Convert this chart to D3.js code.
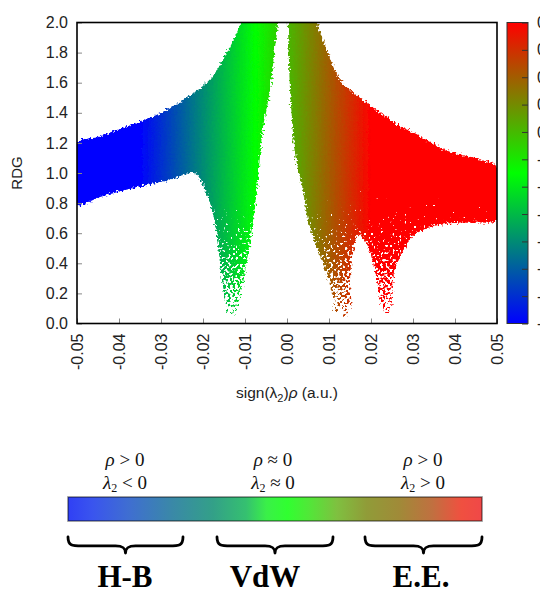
<!DOCTYPE html>
<html><head><meta charset="utf-8">
<script src="https://cdn.jsdelivr.net/npm/d3@7"></script>
<style>body{margin:0;background:#fff}svg{display:block}</style>
</head><body>
<script>
// ---------------- data ----------------
const xTicks = [-0.05,-0.04,-0.03,-0.02,-0.01,0,0.01,0.02,0.03,0.04,0.05];
const yTicks = [0,0.2,0.4,0.6,0.8,1.0,1.2,1.4,1.6,1.8,2.0];
const cbTicks = [0.02,0.015,0.01,0.005,0,-0.005,-0.01,-0.015,-0.02,-0.025,-0.03,-0.035];
const cbRange = [-0.035, 0.02];
const paletteColors = ["#0000ff","#00ff00","#ff0000"];

// outline of the left (attractive / vdW) point cloud: sign(l2)rho, RDG
const leftCloudX =   [-0.05,-0.05,-0.045,-0.04,-0.035,-0.03,-0.025,-0.02,-0.0175,-0.0155,-0.0135,-0.0115,-0.0090,
                      -0.0015,-0.0021,-0.0030,-0.0040,-0.0050,-0.0057,-0.0064,-0.0071,-0.0081,-0.0093,-0.0107,-0.0117,-0.0125,-0.0135,
                      -0.0145,-0.0155,-0.0164,-0.0176,-0.0190,-0.0205,-0.0220,-0.0286,-0.0367,-0.0445];
const leftCloudRDG = [0.79,1.20,1.24,1.29,1.34,1.40,1.48,1.58,1.65,1.74,1.84,1.96,2.12,
                      2.12,2.0,1.80,1.56,1.40,1.30,1.12,0.90,0.68,0.46,0.24,0.12,0.06,0.04,
                      0.12,0.29,0.51,0.73,0.85,0.95,1.00,0.95,0.90,0.84];
// outline of the right (repulsive) point cloud
const rightCloudX =   [0.0001,0.0002,0.0004,0.0007,0.0012,0.0019,0.0036,0.0050,0.0065,0.0085,0.0100,0.0110,0.0114,0.0126,
                       0.0150,0.0150,0.0157,0.0169,0.0186,0.0198,0.0214,0.0226,0.0238,0.0250,0.0252,0.0269,0.0300,
                       0.0340,0.0405,0.0452,0.0500,0.0500,0.0460,0.0380,0.0300,0.0269,0.0238,0.0174,0.0126,0.0095,0.0071,0.0058];
const rightCloudRDG = [2.12,2.0,1.80,1.57,1.35,1.13,0.91,0.69,0.55,0.40,0.28,0.15,0.07,0.04,
                       0.07,0.29,0.47,0.59,0.55,0.47,0.29,0.10,0.07,0.11,0.29,0.44,0.58,
                       0.64,0.67,0.67,0.69,1.04,1.09,1.15,1.27,1.31,1.37,1.50,1.62,1.82,2.0,2.12];

const legendCategories = ["H-B","VdW","E.E."];
const legendRho = [">","≈",">"];
const legendLambda = ["<","≈",">"];
const legendValues = ["0","0","0"];
const legendStopOffsets = [0,0.06,0.15,0.25,0.35,0.43,0.48,0.53,0.58,0.65,0.72,0.80,0.88,0.95,1];
const legendStopColors = ["#3040f5","#3a55ee","#3f6fd0","#3a88a8","#33a088","#35c070","#3af048","#30ff30",
                          "#50e838","#7fc040","#909c38","#a08a38","#c07040","#f05040","#f04848"];

// ---------------- layout ----------------
const W = 540, H = 589;
const plot = {l:77, r:497, t:22.5, b:323.5};
const cb = {l:507, r:528};
const sans = "'Liberation Sans', Arial, sans-serif";
const serif = "'Liberation Serif', 'Times New Roman', serif";

const svg = d3.select("body").append("svg").attr("width", W).attr("height", H);
const defs = svg.append("defs");

const x = d3.scaleLinear().domain([-0.05, 0.05]).range([plot.l, plot.r]);
const y = d3.scaleLinear().domain([0, 2]).range([plot.b, plot.t]);
const cbScale = d3.scaleLinear().domain(cbRange).range([plot.b, plot.t]);
const paletteDomain = [cbRange[0], (cbRange[0]+cbRange[1])/2, cbRange[1]];

// gradient of the point cloud along x (colour = sign(l2)rho)
const cg = defs.append("linearGradient").attr("id","cloudGrad")
  .attr("gradientUnits","userSpaceOnUse")
  .attr("x1", x(-0.05)).attr("x2", x(0.05)).attr("y1",0).attr("y2",0);
paletteDomain.forEach((v,i) => cg.append("stop")
  .attr("offset", (x(v)-x(-0.05))/(x(0.05)-x(-0.05))).attr("stop-color", paletteColors[i]));

// colorbar gradient (vertical)
const vg = defs.append("linearGradient").attr("id","cbGrad")
  .attr("gradientUnits","userSpaceOnUse").attr("x1",0).attr("x2",0)
  .attr("y1", cbScale(cbRange[0])).attr("y2", cbScale(cbRange[1]));
paletteDomain.forEach((v,i) => vg.append("stop")
  .attr("offset", (v-cbRange[0])/(cbRange[1]-cbRange[0])).attr("stop-color", paletteColors[i]));

// rough (scattered) edges of the point cloud
const fr = defs.append("filter").attr("id","rough").attr("filterUnits","userSpaceOnUse")
  .attr("x",0).attr("y",0).attr("width",W).attr("height",H);
fr.append("feTurbulence").attr("type","fractalNoise").attr("baseFrequency",0.5).attr("numOctaves",1).attr("seed",3).attr("result","n");
fr.append("feDisplacementMap").attr("in","SourceGraphic").attr("in2","n").attr("scale",7)
  .attr("xChannelSelector","R").attr("yChannelSelector","G");

// dithered density fade for low RDG (sparser points near the spikes)
const fd = defs.append("filter").attr("id","dither").attr("filterUnits","userSpaceOnUse")
  .attr("x",0).attr("y",0).attr("width",W).attr("height",H).attr("color-interpolation-filters","sRGB");
fd.append("feTurbulence").attr("type","fractalNoise").attr("baseFrequency",0.42).attr("numOctaves",1).attr("seed",9).attr("result","n0");
fd.append("feColorMatrix").attr("in","n0").attr("type","matrix")
  .attr("values","1 0 0 0 0  1 0 0 0 0  1 0 0 0 0  0 0 0 0 1").attr("result","n");
fd.append("feComposite").attr("in","SourceGraphic").attr("in2","n").attr("operator","arithmetic")
  .attr("k1",0).attr("k2",1).attr("k3",2).attr("k4",-0.8).attr("result","s");
const ct = fd.append("feComponentTransfer").attr("in","s");
["feFuncR","feFuncG","feFuncB"].forEach(f => ct.append(f).attr("type","linear").attr("slope",9).attr("intercept",-4));
ct.append("feFuncA").attr("type","linear").attr("slope",0).attr("intercept",1);

const fadeGrad = defs.append("linearGradient").attr("id","fadeGrad").attr("gradientUnits","userSpaceOnUse")
  .attr("x1",0).attr("x2",0).attr("y1",y(0.95)).attr("y2",y(0.0));
fadeGrad.append("stop").attr("offset",0).attr("stop-color","#fff");
fadeGrad.append("stop").attr("offset",1).attr("stop-color","#111");
const mask = defs.append("mask").attr("id","denseMask").attr("maskUnits","userSpaceOnUse")
  .attr("x",0).attr("y",0).attr("width",W).attr("height",H);
mask.append("rect").attr("x",plot.l-10).attr("y",plot.t-10).attr("width",plot.r-plot.l+20).attr("height",plot.b-plot.t+20)
  .attr("fill","url(#fadeGrad)").attr("filter","url(#dither)");

defs.append("clipPath").attr("id","plotClip").append("rect")
  .attr("x",plot.l).attr("y",plot.t).attr("width",plot.r-plot.l).attr("height",plot.b-plot.t);

const line = d3.line().x(d => x(d[0])).y(d => y(d[1])).curve(d3.curveCatmullRomClosed.alpha(0.5));
const clouds = [d3.zip(leftCloudX, leftCloudRDG), d3.zip(rightCloudX, rightCloudRDG)];

const cloudG = svg.append("g").attr("clip-path","url(#plotClip)")
  .append("g").attr("mask","url(#denseMask)")
  .append("g").attr("filter","url(#rough)");
cloudG.selectAll("path").data(clouds).join("path").attr("d", line).attr("fill","url(#cloudGrad)");

// axes
const yAxis = svg.append("g").attr("transform",`translate(${plot.l},0)`)
  .call(d3.axisLeft(y).tickValues(yTicks).tickFormat(d => d.toFixed(1)).tickSizeInner(-5).tickSizeOuter(0).tickPadding(9));
const xAxis = svg.append("g").attr("transform",`translate(0,${plot.b})`)
  .call(d3.axisBottom(x).tickValues(xTicks).tickFormat(d => d.toFixed(2)).tickSizeInner(-5).tickSizeOuter(0));
[xAxis, yAxis].forEach(a => {
  a.select(".domain").remove();
  a.selectAll(".tick line").attr("stroke","#888");
  a.selectAll(".tick text").attr("fill","#222").style("font-family", sans).style("font-size","16px");
});
xAxis.selectAll(".tick text").attr("transform","rotate(-90)").attr("text-anchor","end")
  .attr("x",-10).attr("y",0).attr("dy","0.35em");

svg.append("rect").attr("x",plot.l).attr("y",plot.t).attr("width",plot.r-plot.l).attr("height",plot.b-plot.t)
  .attr("fill","none").attr("stroke","#000").attr("stroke-width",1.6);

// axis titles
svg.append("text").attr("transform",`translate(22,${(plot.t+plot.b)/2}) rotate(-90)`)
  .attr("text-anchor","middle").style("font-family",sans).style("font-size","15px").attr("fill","#222").text("RDG");
const xl = svg.append("text").attr("x",(plot.l+plot.r)/2).attr("y",398).attr("text-anchor","middle")
  .style("font-family",sans).style("font-size","15.5px").attr("fill","#222");
xl.append("tspan").text("sign(");
xl.append("tspan").text("λ");
xl.append("tspan").attr("dy",4).style("font-size","11px").text("2");
xl.append("tspan").attr("dy",-4).text(")");
xl.append("tspan").style("font-style","italic").text("ρ");
xl.append("tspan").text(" (a.u.)");

// colorbar
svg.append("rect").attr("x",cb.l).attr("y",plot.t).attr("width",cb.r-cb.l).attr("height",plot.b-plot.t)
  .attr("fill","url(#cbGrad)").attr("stroke","#333").attr("stroke-width",1);
const cbAxis = svg.append("g").attr("transform",`translate(${cb.r},0)`)
  .call(d3.axisRight(cbScale).tickValues(cbTicks).tickFormat(d => d.toFixed(3)).tickSizeInner(-6).tickSizeOuter(0).tickPadding(9));
cbAxis.select(".domain").remove();
cbAxis.selectAll(".tick line").attr("stroke","#333");
cbAxis.selectAll(".tick text").attr("fill","#222").style("font-family",sans).style("font-size","16px");

// ---------------- bottom legend ----------------
const lb = {l:68, r:482, t:497, b:521};
const lg = defs.append("linearGradient").attr("id","legGrad");
legendStopOffsets.forEach((o,i) => lg.append("stop").attr("offset",o).attr("stop-color",legendStopColors[i]));
svg.append("rect").attr("x",lb.l).attr("y",lb.t).attr("width",lb.r-lb.l).attr("height",lb.b-lb.t)
  .attr("fill","url(#legGrad)").attr("stroke","#000").attr("stroke-opacity",0.45).attr("stroke-width",1.6);

const braceSpans = [[68,183],[217,333],[365,482]];
const labelCenters = [125,265,421];
const mathCenters = [125,273,423];
function brace(x1, x2, yTop, yBot) {
  const mid = (x1+x2)/2, ym = yTop + (yBot-yTop)*0.55;
  return `M${x1},${yTop} C${x1},${ym} ${x1+4},${ym} ${x1+14},${ym} L${mid-10},${ym} C${mid-3},${ym} ${mid},${ym+2} ${mid},${yBot}` +
         ` C${mid},${ym+2} ${mid+3},${ym} ${mid+10},${ym} L${x2-14},${ym} C${x2-4},${ym} ${x2},${ym} ${x2},${yTop}`;
}
const leg = svg.append("g").selectAll("g").data(legendCategories).join("g");
leg.append("path").attr("d",(d,i) => brace(braceSpans[i][0], braceSpans[i][1], 537, 553))
  .attr("fill","none").attr("stroke","#000").attr("stroke-width",2.8).attr("stroke-linecap","round").attr("stroke-linejoin","round");
leg.append("text").attr("x",(d,i) => labelCenters[i]).attr("y",587)
  .attr("text-anchor","middle").style("font-family",serif).style("font-weight","bold").style("font-size","31px")
  .attr("fill","#000").text(d => d);
const t1 = leg.append("text").attr("x",(d,i) => mathCenters[i]).attr("y",466)
  .attr("text-anchor","middle").style("font-family",serif).style("font-size","19px").attr("fill","#111");
t1.append("tspan").style("font-style","italic").text("ρ");
t1.append("tspan").text((d,i) => " " + legendRho[i] + " " + legendValues[i]);
const t2 = leg.append("text").attr("x",(d,i) => mathCenters[i]).attr("y",489)
  .attr("text-anchor","middle").style("font-family",serif).style("font-size","19px").attr("fill","#111");
t2.append("tspan").style("font-style","italic").text("λ");
t2.append("tspan").attr("dy",3).style("font-size","12px").text("2");
t2.append("tspan").attr("dy",-3).text((d,i) => " " + legendLambda[i] + " " + legendValues[i]);
</script>
</body></html>
